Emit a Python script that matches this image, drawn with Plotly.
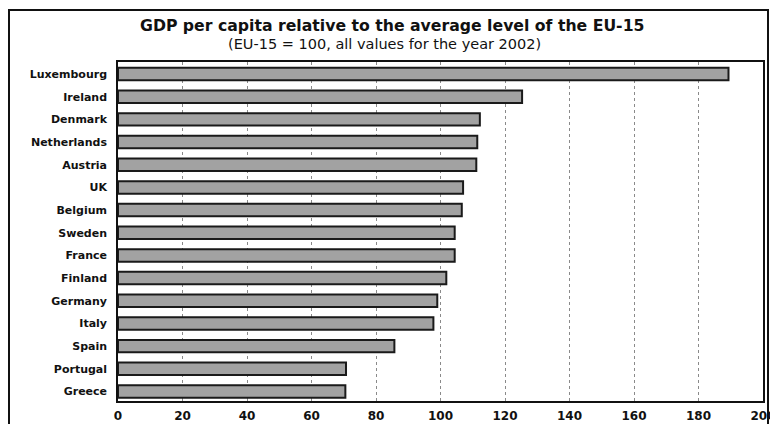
import plotly.graph_objects as go

countries = ["Luxembourg", "Ireland", "Denmark", "Netherlands", "Austria", "UK",
             "Belgium", "Sweden", "France", "Finland", "Germany", "Italy",
             "Spain", "Portugal", "Greece"]
gdp_index = [189.3, 125.3, 112.2, 111.4, 111.1, 107.0, 106.6, 104.4, 104.4,
             101.8, 99.0, 97.8, 85.7, 70.7, 70.5]
x_ticks = [0, 20, 40, 60, 80, 100, 120, 140, 160, 180, 200]

fig = go.Figure(go.Bar(
    x=gdp_index,
    y=countries,
    orientation="h",
    marker=dict(color="#a2a2a2", line=dict(color="#1a1a1a", width=2)),
    width=0.55,
))

fig.update_layout(
    width=770, height=424,
    margin=dict(l=118, r=7, t=62, b=23, autoexpand=False),
    paper_bgcolor="white", plot_bgcolor="white",
    showlegend=False,
    font=dict(family="DejaVu Sans", color="#111111"),
    xaxis=dict(
        range=[0, 200], tickvals=x_ticks,
        ticktext=[f"<b>{v}</b>" for v in x_ticks],
        ticklabeloverflow="allow", automargin=False,
        showgrid=True, gridcolor="#8a8a8a", gridwidth=1, griddash="dot",
        zeroline=False, showline=True, linecolor="#111111", linewidth=1.5, mirror=True,
        tickfont=dict(size=12, family="DejaVu Sans", color="#111111"),
        ticks="", ticklabelstandoff=3,
    ),
    yaxis=dict(
        categoryorder="array", categoryarray=countries[::-1],
        range=[-0.42, 14.53], automargin=False,
        tickvals=countries, ticktext=[f"<b>{c}</b>" for c in countries],
        showgrid=False, showline=True, linecolor="#111111", linewidth=1.5, mirror=True,
        tickfont=dict(size=11, family="DejaVu Sans", color="#111111"),
        ticks="", ticklabelstandoff=7,
    ),
)

fig.add_annotation(
    text="<b>GDP per capita relative to the average level of the EU-15</b>",
    xref="paper", yref="paper", x=(392 - 118) / 645, y=1, yshift=37,
    xanchor="center", yanchor="middle", showarrow=False,
    font=dict(size=15.7, family="DejaVu Sans", color="#111111"),
)
fig.add_annotation(
    text="(EU-15 = 100, all values for the year 2002)",
    xref="paper", yref="paper", x=(384 - 118) / 645, y=1, yshift=18,
    xanchor="center", yanchor="middle", showarrow=False,
    font=dict(size=14.5, family="DejaVu Sans", color="#111111"),
)

# outer frame around the whole chart
fig.add_shape(
    type="rect", xref="paper", yref="paper",
    x0=-109 / 645, x1=1 + 5 / 645, y0=-0.2, y1=1 + 52 / 339,
    line=dict(color="#111111", width=2), fillcolor="rgba(0,0,0,0)", layer="above",
)

fig.write_html("out.html")
